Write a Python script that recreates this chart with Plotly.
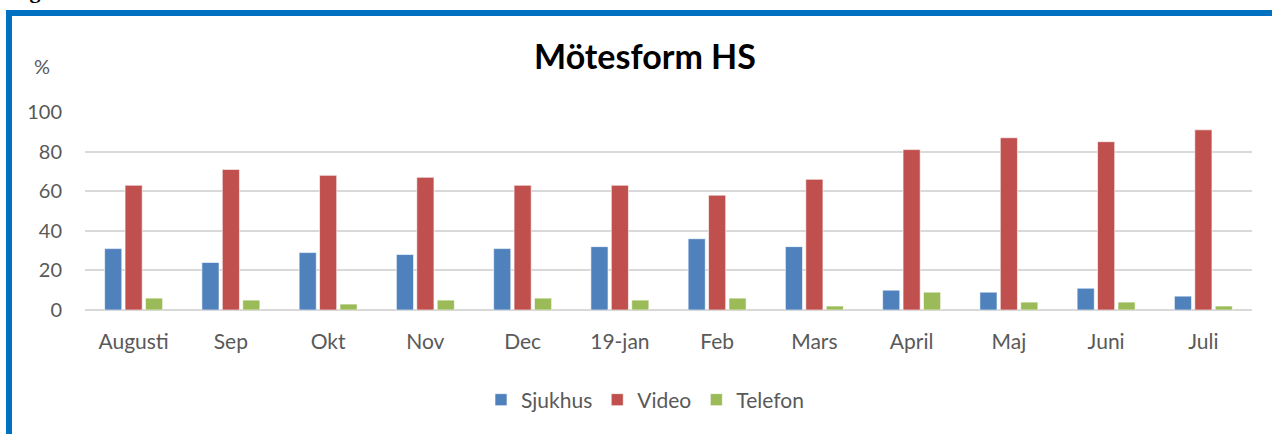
import plotly.graph_objects as go

months = ["Augusti", "Sep", "Okt", "Nov", "Dec", "19-jan", "Feb", "Mars", "April", "Maj", "Juni", "Juli"]
sjukhus = [31, 24, 29, 28, 31, 32, 36, 32, 10, 9, 11, 7]
video = [63, 71, 68, 67, 63, 63, 58, 66, 81, 87, 85, 91]
telefon = [6, 5, 3, 5, 6, 5, 6, 2, 9, 4, 4, 2]
y_ticks = [0, 20, 40, 60, 80, 100]

FONT = "Lato"
W, H = 1272, 434
L, R, T, B = 85, 20, 112, 124
PW, PH = W - L - R, H - T - B

def px_x(p):
    return (p - L) / PW

def px_y(p):
    return (H - B - p) / PH

fig = go.Figure()
for name, vals, col in [("Sjukhus", sjukhus, "#4F81BD"),
                        ("Video", video, "#C0504D"),
                        ("Telefon", telefon, "#9BBB59")]:
    fig.add_trace(go.Bar(x=months, y=vals, name=name,
                         marker=dict(color=col, line=dict(color="rgba(255,255,255,0.6)", width=1))))

fig.update_layout(
    width=W, height=H,
    margin=dict(l=L, r=R, t=T, b=B),
    paper_bgcolor="white", plot_bgcolor="white",
    barmode="group", bargap=0.37, bargroupgap=0.16,
    font=dict(family=FONT, color="#595959", size=21),
    title=dict(text="<b>Mötesform HS</b>", x=645 / W, xanchor="center",
               y=1 - 57 / H, yanchor="middle",
               font=dict(family=FONT, size=34, color="black")),
    showlegend=True,
    legend=dict(orientation="h", x=px_x(645), xanchor="center",
                y=px_y(400), yanchor="middle",
                font=dict(family=FONT, size=21, color="#595959"),
                itemwidth=30, traceorder="normal"),
    xaxis=dict(showgrid=False, showline=False, ticks="",
               ticklabelstandoff=17,
               tickfont=dict(size=21, color="#595959")),
    yaxis=dict(range=[0, 100], tickvals=y_ticks, showgrid=True,
               gridcolor="#D9D9D9", gridwidth=1.5, zeroline=True,
               zerolinecolor="#D9D9D9", zerolinewidth=1.5, showline=False,
               ticks="", ticklabelstandoff=22,
               tickfont=dict(size=20, color="#595959")),
    shapes=[dict(type="rect", xref="paper", yref="paper",
                 x0=px_x(9), x1=px_x(1400), y0=px_y(600), y1=px_y(13),
                 line=dict(color="#0070C0", width=6), fillcolor="rgba(0,0,0,0)",
                 layer="below")],
    annotations=[
        dict(text="%", xref="paper", yref="paper", x=px_x(42), y=px_y(66),
             xanchor="center", yanchor="middle", showarrow=False,
             font=dict(family=FONT, size=20, color="#595959")),
        dict(text="<b>Fig</b>", xref="paper", yref="paper", x=px_x(8), y=px_y(5),
             xanchor="left", yanchor="bottom", showarrow=False,
             font=dict(family="Liberation Serif", size=22, color="black")),
    ],
)

fig.write_html("out.html", config={"displayModeBar": False},
               post_script="document.body.style.margin='0';")
